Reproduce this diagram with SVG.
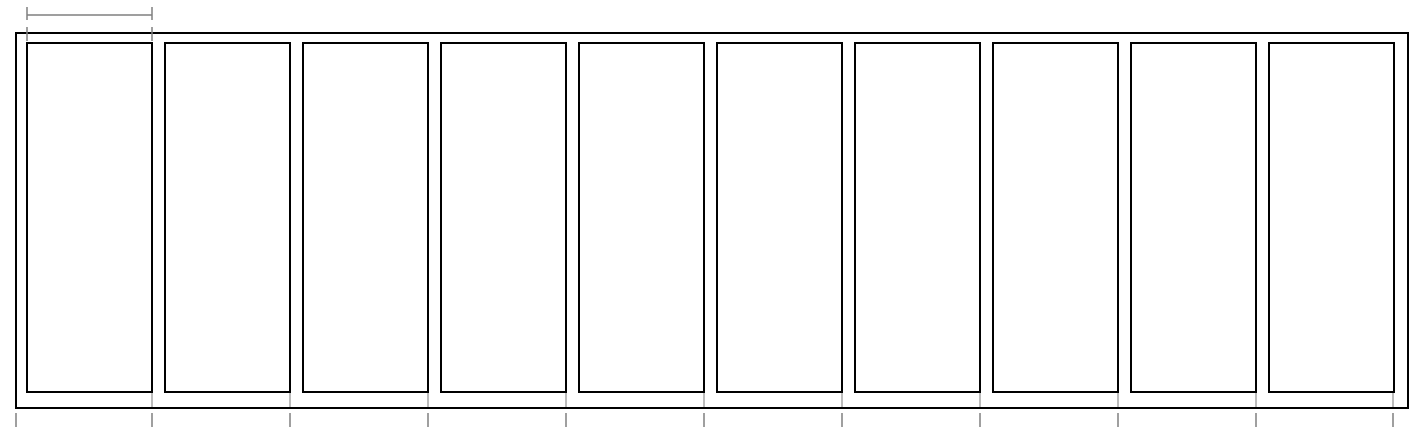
<svg xmlns="http://www.w3.org/2000/svg" width="1424" height="434" viewBox="0 0 1424 434">
<style>
.frame{fill:none;stroke:#000;stroke-width:2}
.panel{fill:#fff;stroke:#000;stroke-width:2}
.dim{stroke:#808080;stroke-width:1.5;fill:none}
.ext{stroke:#909090;stroke-width:1.2;fill:none}
</style>
<rect width="1424" height="434" fill="#fff"/>
<g id="frame"><rect class="frame" x="16" y="33" width="1392" height="375"/></g>
<g id="extension-lines">
<path class="ext" d="M152 392V407M290 392V407M428 392V407M566 392V407M704 392V407M842 392V407M980 392V407M1118 392V407M1256 392V407M1393 392V407"/>
</g>
<g id="panels">
<g id="panel1"><rect class="panel" x="27" y="43" width="125" height="349"/></g>
<g id="panel2"><rect class="panel" x="165" y="43" width="125" height="349"/></g>
<g id="panel3"><rect class="panel" x="303" y="43" width="125" height="349"/></g>
<g id="panel4"><rect class="panel" x="441" y="43" width="125" height="349"/></g>
<g id="panel5"><rect class="panel" x="579" y="43" width="125" height="349"/></g>
<g id="panel6"><rect class="panel" x="717" y="43" width="125" height="349"/></g>
<g id="panel7"><rect class="panel" x="855" y="43" width="125" height="349"/></g>
<g id="panel8"><rect class="panel" x="993" y="43" width="125" height="349"/></g>
<g id="panel9"><rect class="panel" x="1131" y="43" width="125" height="349"/></g>
<g id="panel10"><rect class="panel" x="1269" y="43" width="125" height="349"/></g>
</g>
<g id="connectors">
<path class="dim" d="M27 15H152M27 7V20M152 7V20M27 27V41M152 27V41"/>
<path class="dim" d="M16 413V427M152 413V427M290 413V427M428 413V427M566 413V427M704 413V427M842 413V427M980 413V427M1118 413V427M1256 413V427M1393 413V427"/>
</g>
</svg>
